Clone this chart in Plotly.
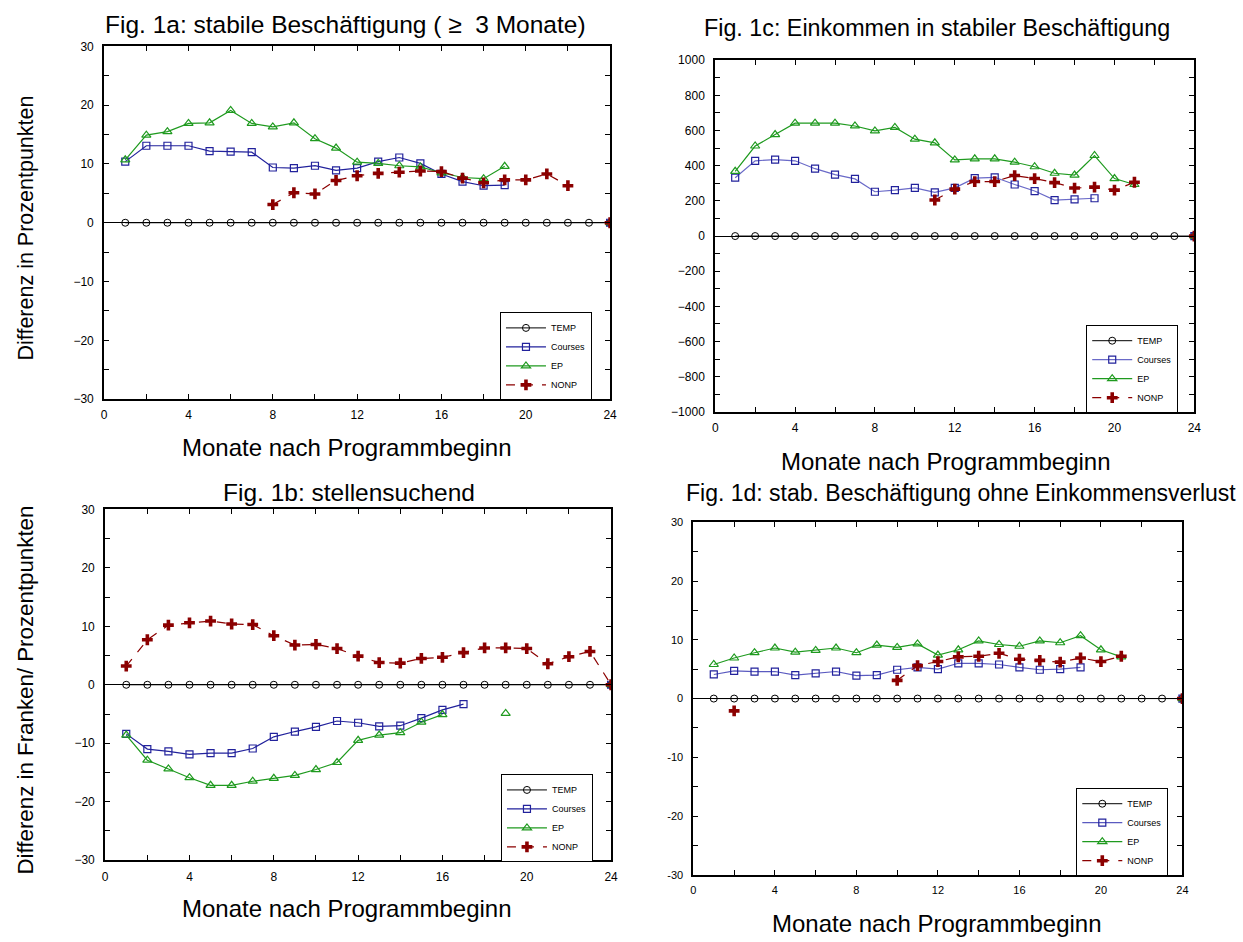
import plotly.graph_objects as go

W, H = 1243, 942
N = None

months = [1, 2, 3, 4, 5, 6, 7, 8, 9, 10, 11, 12, 13, 14, 15, 16, 17, 18, 19, 20, 21, 22, 23, 24]
series_names = ["TEMP", "Courses", "EP", "NONP"]

temp_zero = [0, 0, 0, 0, 0, 0, 0, 0, 0, 0, 0, 0, 0, 0, 0, 0, 0, 0, 0, 0, 0, 0, 0, 0]

# Fig. 1a: stabile Beschäftigung
a_courses = [10.4, 13.1, 13.1, 13.1, 12.2, 12.1, 12.0, 9.4, 9.3, 9.7, 8.9, 9.3, 10.4, 11.1, 10.1, 8.3, 7.0, 6.3, 6.4, N, N, N, N, 0]
a_ep = [10.7, 14.9, 15.5, 16.9, 17.0, 19.1, 16.9, 16.3, 17.0, 14.3, 12.7, 10.3, 10.1, 9.7, 9.5, 8.5, 7.7, 7.5, 9.6, N, N, N, N, 0]
a_nonp = [N, N, N, N, N, N, N, 3.1, 5.1, 4.9, 7.2, 8.0, 8.4, 8.6, 8.8, 8.7, 7.6, 6.8, 7.3, 7.3, 8.3, 6.3, N, 0]

# Fig. 1c: Einkommen in stabiler Beschäftigung
c_courses = [332, 428, 435, 428, 383, 349, 325, 252, 261, 274, 248, 274, 329, 334, 293, 256, 204, 209, 215, N, N, N, N, 0]
c_ep = [368, 512, 577, 642, 642, 642, 626, 598, 618, 551, 530, 433, 439, 439, 420, 394, 357, 347, 458, 327, 293, N, N, 0]
c_nonp = [N, N, N, N, N, N, N, N, N, N, 205, 267, 310, 310, 344, 327, 304, 273, 278, 261, 306, N, N, 0]

# Fig. 1b: stellensuchend
b_courses = [-8.4, -11.0, -11.4, -11.9, -11.7, -11.7, -10.9, -8.9, -8.0, -7.2, -6.2, -6.5, -7.1, -7.0, -5.7, -4.3, -3.3, N, N, N, N, N, N, 0]
b_ep = [-8.6, -12.9, -14.4, -15.9, -17.2, -17.2, -16.5, -16.0, -15.5, -14.5, -13.3, -9.5, -8.6, -8.2, -6.4, -5.1, N, N, -4.9, N, N, N, N, 0]
b_nonp = [3.2, 7.7, 10.2, 10.6, 10.9, 10.4, 10.3, 8.4, 6.8, 6.9, 6.2, 4.9, 3.8, 3.7, 4.5, 4.7, 5.5, 6.3, 6.3, 6.2, 3.6, 4.8, 5.7, 0]

# Fig. 1d: stab. Beschäftigung ohne Einkommensverlust
d_courses = [4.1, 4.7, 4.6, 4.6, 4.0, 4.3, 4.6, 3.9, 4.0, 4.9, 5.3, 5.0, 6.0, 6.0, 5.8, 5.3, 4.9, 5.0, 5.3, N, N, N, N, 0]
d_ep = [5.8, 6.9, 7.8, 8.6, 7.9, 8.2, 8.6, 7.8, 9.1, 8.7, 9.3, 7.4, 8.3, 9.8, 9.2, 8.9, 9.8, 9.5, 10.7, 8.3, 7.1, N, N, 0]
d_nonp = [N, -2.1, N, N, N, N, N, N, N, 3.1, 5.6, 6.3, 7.1, 7.2, 7.7, 6.7, 6.5, 6.2, 6.9, 6.3, 7.2, N, N, 0]

x_tickvals = [0, 4, 8, 12, 16, 20, 24]
x_ticktext = ["0", "4", "8", "12", "16", "20", "24"]
pct_tickvals = [-30, -20, -10, 0, 10, 20, 30]
pct_ticktext = ["\u221230", "\u221220", "\u221210", "0", "10", "20", "30"]
pct_ticktext_d = ["-30", "-20", "-10", "0", "10", "20", "30"]
chf_tickvals = [-1000, -800, -600, -400, -200, 0, 200, 400, 600, 800, 1000]
chf_ticktext = ["\u22121000", "\u2212800", "\u2212600", "\u2212400", "\u2212200", "0", "200", "400", "600", "800", "1000"]

titles = [
    "Fig. 1a: stabile Beschäftigung ( \u2265  3 Monate)",
    "Fig. 1c: Einkommen in stabiler Beschäftigung",
    "Fig. 1b: stellensuchend",
    "Fig. 1d: stab. Beschäftigung ohne Einkommensverlust",
]
xlabel = "Monate nach Programmbeginn"
ylabel_top = "Differenz in Prozentpunkten"
ylabel_bottom = "Differenz in Franken/ Prozentpunkten"

FONT = "Liberation Sans, Arial, Helvetica, sans-serif"
COL = {"TEMP": "black", "Courses": "#22229c", "EP": "#1f9a1f", "NONP": "#8b0000"}


def fx(px):
    return px / W


def fy(py):
    return 1 - py / H


# panel boxes in pixels: (left, right, top, bottom)
panels = [
    dict(box=(102, 612, 40, 398), data=(a_courses, a_ep, a_nonp), yt=(pct_tickvals, pct_ticktext), yr=[-30, 30], ym=5,
         leg=(501, 310), tfs=12, course_line="#22229c"),
    dict(box=(718, 1201, 54, 411), data=(c_courses, c_ep, c_nonp), yt=(chf_tickvals, chf_ticktext), yr=[-1000, 1000], ym=100,
         leg=(1092, 323), tfs=12, course_line="#6a6ac8"),
    dict(box=(103, 613, 510, 866), data=(b_courses, b_ep, b_nonp), yt=(pct_tickvals, pct_ticktext), yr=[-30, 30], ym=5,
         leg=(502, 779), tfs=12, course_line="#22229c"),
    dict(box=(696, 1189, 523, 881), data=(d_courses, d_ep, d_nonp), yt=(pct_tickvals, pct_ticktext_d), yr=[-30, 30], ym=5,
         leg=(1082, 793), tfs=11, course_line="#5a5ac0"),
]

fig = go.Figure()
layout = dict(width=W, height=H, margin=dict(l=0, r=0, t=0, b=0), paper_bgcolor="white", plot_bgcolor="white",
              font=dict(family=FONT, color="black"), showlegend=True)

for i, p in enumerate(panels):
    k = "" if i == 0 else str(i + 1)
    xa, ya = "x" + k, "y" + k
    legname = "legend" + k
    courses, ep, nonp = p["data"]
    common = dict(x=months, xaxis=xa, yaxis=ya, legend=legname, mode="lines+markers", cliponaxis=True)
    fig.add_trace(go.Scatter(y=temp_zero, name="TEMP", line=dict(color="black", width=1),
                             marker=dict(symbol="circle-open", size=7, color="black", line=dict(width=1)), **common))
    fig.add_trace(go.Scatter(y=courses, name="Courses", line=dict(color=p["course_line"], width=1.2),
                             marker=dict(symbol="square-open", size=7, color=COL["Courses"], line=dict(width=1.2)), **common))
    fig.add_trace(go.Scatter(y=ep, name="EP", line=dict(color=COL["EP"], width=1.2),
                             marker=dict(symbol="triangle-up-open", size=8, color=COL["EP"], line=dict(width=1.2)), **common))
    fig.add_trace(go.Scatter(y=nonp, name="NONP", line=dict(color=COL["NONP"], width=1.2, dash="dash"),
                             marker=dict(symbol="cross", size=9, color=COL["NONP"], line=dict(width=0)), **common))

    l, r, t, b = p["box"]
    axcommon = dict(showline=True, linecolor="black", linewidth=2, mirror="ticks", ticks="inside", ticklen=5,
                    tickwidth=1, tickcolor="black", showgrid=False, fixedrange=True,
                    tickfont=dict(family=FONT, size=p["tfs"], color="black"))
    layout["xaxis" + k] = dict(domain=[fx(l), fx(r)], anchor=ya, range=[0, 24], tickmode="array",
                               tickvals=x_tickvals, ticktext=x_ticktext, zeroline=False,
                               minor=dict(dtick=2, ticks="inside", ticklen=5, tickcolor="black", showgrid=False),
                               ticklabelstandoff=4, **axcommon)
    layout["yaxis" + k] = dict(domain=[fy(b), fy(t)], anchor=xa, range=p["yr"], tickmode="array",
                               tickvals=p["yt"][0], ticktext=p["yt"][1], zeroline=True, zerolinecolor="black",
                               zerolinewidth=1,
                               minor=dict(dtick=p["ym"], ticks="inside", ticklen=5, tickcolor="black", showgrid=False),
                               ticklabelstandoff=6, **axcommon)
    lx, ly = p["leg"]
    layout[legname] = dict(x=fx(lx), y=fy(ly), xanchor="left", yanchor="top", bgcolor="white",
                           bordercolor="black", borderwidth=1, font=dict(family=FONT, size=9, color="black"),
                           itemwidth=40, tracegroupgap=0)

annotations = []
title_spec = [((345, 18), 24.5), ((942, 21), 23.3), ((349, 493), 24.5), ((966, 493), 23)]
for txt, ((cx, cy), fs) in zip(titles, title_spec):
    annotations.append(dict(text=txt, x=fx(cx), y=fy(cy), xref="paper", yref="paper", showarrow=False,
                            xanchor="center", yanchor="middle", font=dict(family=FONT, size=fs, color="black")))
for cx, cy in [(347, 447), (951, 461), (347, 915), (942, 930)]:
    annotations.append(dict(text=xlabel, x=fx(cx), y=fy(cy), xref="paper", yref="paper", showarrow=False,
                            xanchor="center", yanchor="middle", font=dict(family=FONT, size=24, color="black")))
for txt, (cx, cy), fs in [(ylabel_top, (23, 224), 21.5), (ylabel_bottom, (23, 693), 22.3)]:
    annotations.append(dict(text=txt, x=fx(cx), y=fy(cy), xref="paper", yref="paper", showarrow=False, textangle=-90,
                            xanchor="center", yanchor="middle", font=dict(family=FONT, size=fs, color="black")))
layout["annotations"] = annotations

fig.update_layout(**layout)
fig.write_html("out.html", config={"displayModeBar": False},
               post_script="document.body.style.margin='0';document.body.style.overflow='hidden';")
